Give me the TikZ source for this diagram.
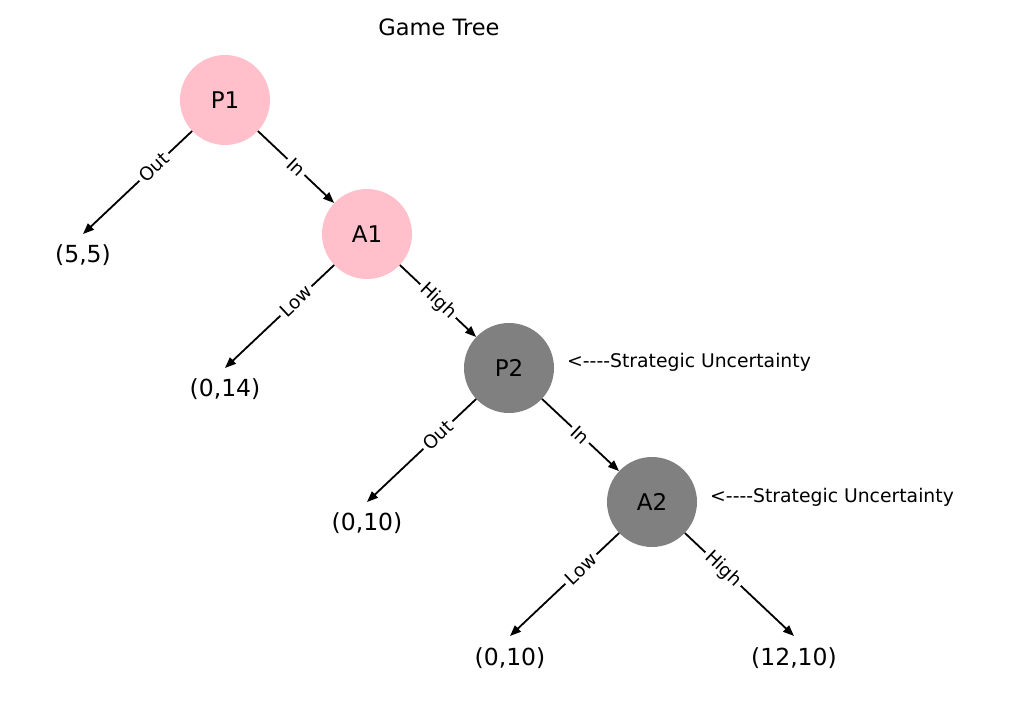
\documentclass[tikz,border=0pt]{standalone}
\usepackage{fontspec}
\setmainfont{DejaVu Sans}
\usetikzlibrary{arrows.meta,positioning}

\definecolor{pinkish}{HTML}{FFC0CB}
\definecolor{grayish}{HTML}{808080}

\begin{document}
\begin{tikzpicture}[x=1pt,y=-1pt]
	% Options for the whole tree go in one tikzset, as before
	\tikzset{
		->, % every move is directed
		>={Triangle[length=11pt,width=8.5pt]}, % filled heads like the plotted ones
		every edge/.append style={line width=1.8pt, -{Triangle[length=11pt,width=8.5pt]}},
		on grid, % relative distances are measured centre to centre
		player/.style={circle, minimum size=90pt, inner sep=0pt, font=\fontsize{23}{27}\selectfont},
		first/.style={player, fill=pinkish}, % decisions without uncertainty
		second/.style={player, fill=grayish}, % decisions under strategic uncertainty
		payoff/.style={font=\fontsize{23.5}{28}\selectfont},
		move/.style={sloped, fill=white, inner sep=3pt, rounded corners=3pt, font=\fontsize{18.5}{22}\selectfont},
		note/.style={anchor=west, inner sep=0pt, font=\fontsize{18.8}{22}\selectfont},
	}
	\useasboundingbox (0,0) rectangle (1030,715);
	\node[font=\fontsize{22.5}{27}\selectfont] (title) at (439,27) {Game Tree};
	% The players, each one step down and to the right of the last
	\node[first] (P1) at (225,100) {P1};
	\node[first, below right=134pt and 142pt of P1] (A1) {A1};
	\node[second, below right=134pt and 142pt of A1] (P2) {P2};
	\node[second, below right=134pt and 143pt of P2] (A2) {A2};
	% The ends of the outside options, with the payoffs written under them
	\coordinate[below left=134pt and 142pt of P1] (o1);
	\coordinate[below left=134pt and 142pt of A1] (o2);
	\coordinate[below left=134pt and 142pt of P2] (o3);
	\coordinate[below left=134pt and 142pt of A2] (o4);
	\coordinate[below right=134pt and 142pt of A2] (o5);
	\node[payoff] (v1) at ([yshift=-21pt]o1) {(5,5)};
	\node[payoff] (v2) at ([yshift=-21pt]o2) {(0,14)};
	\node[payoff] (v3) at ([yshift=-21pt]o3) {(0,10)};
	\node[payoff] (v4) at ([yshift=-22pt]o4) {(0,10)};
	\node[payoff] (v5) at ([yshift=-22pt]o5) {(12,10)};
	% The pos=.35 labels sit half way between the centres, like the plotted ones
	\draw   (P1) edge node[move, pos=.35] {Out} (o1)
			(P1) edge node[move] {In} (A1)
			(A1) edge node[move, pos=.35] {Low} (o2)
			(A1) edge node[move] {High} (P2)
			(P2) edge node[move, pos=.35] {Out} (o3)
			(P2) edge node[move] {In} (A2)
			(A2) edge node[move, pos=.35] {Low} (o4)
			(A2) edge node[move, pos=.35] {High} (o5);
	\node[note] (u1) at (567,362) {<-\kern0pt-\kern0pt-\kern0pt-Strategic Uncertainty};
	\node[note] (u2) at (710,497) {<-\kern0pt-\kern0pt-\kern0pt-Strategic Uncertainty};
\end{tikzpicture}
\end{document}
